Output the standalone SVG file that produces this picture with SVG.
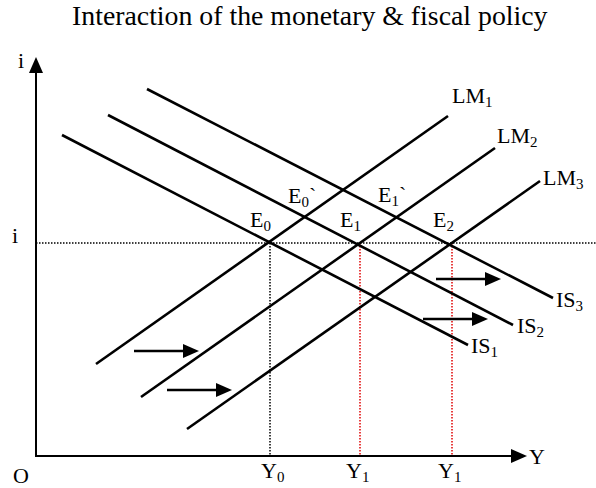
<svg xmlns="http://www.w3.org/2000/svg" width="596" height="488" viewBox="0 0 596 488">
<style>
text{font-family:"Liberation Serif","Times New Roman",serif;fill:#000;font-size:22px}
.sub{font-size:15px}
.curve{stroke:#000;stroke-width:2.6;fill:none;stroke-linecap:butt}
.axis{stroke:#000;stroke-width:2;fill:none}
.dotk{stroke:#000;stroke-width:1.5;stroke-dasharray:1.5 1.5;fill:none}
.dotr{stroke:#e00000;stroke-width:1.5;stroke-dasharray:1.5 1.5;fill:none}
.shift{stroke:#000;stroke-width:2.6;fill:none}
</style>
<defs>
<marker id="ah" viewBox="0 0 16 14" refX="2" refY="7" markerWidth="16" markerHeight="14" markerUnits="userSpaceOnUse" orient="auto">
<path d="M0,0 L16,7 L0,14 z" fill="#000"/>
</marker>
</defs>
<rect width="596" height="488" fill="#fff"/>
<text x="72" y="25" style="font-size:27.8px">Interaction of the monetary &amp; fiscal policy</text>

<g id="guides">
<line class="dotk" x1="36" y1="243" x2="596" y2="243"/>
<line class="dotk" x1="270" y1="243" x2="270" y2="456"/>
<line class="dotr" x1="360" y1="243" x2="360" y2="456"/>
<line class="dotr" x1="452" y1="243" x2="452" y2="456"/>
</g>

<g id="axes">
<line class="axis" x1="36" y1="457" x2="36" y2="71" marker-end="url(#ah)"/>
<line class="axis" x1="35" y1="456" x2="513" y2="456" marker-end="url(#ah)"/>
<text x="18" y="68">i</text>
<text x="12" y="243">i</text>
<text x="529" y="464">Y</text>
<text x="13" y="483">O</text>
</g>

<g id="LM1"><line class="curve" x1="96" y1="364" x2="448" y2="116"/><text x="452" y="103">LM<tspan class="sub" dy="4">1</tspan></text></g>
<g id="LM2"><line class="curve" x1="141" y1="397" x2="495" y2="148"/><text x="497" y="143">LM<tspan class="sub" dy="4">2</tspan></text></g>
<g id="LM3"><line class="curve" x1="187" y1="429" x2="540" y2="181"/><text x="543" y="185">LM<tspan class="sub" dy="4">3</tspan></text></g>

<g id="IS1"><line class="curve" x1="62" y1="135" x2="468" y2="345"/><text x="471" y="353">IS<tspan class="sub" dy="4">1</tspan></text></g>
<g id="IS2"><line class="curve" x1="108" y1="115" x2="513" y2="325"/><text x="517" y="333">IS<tspan class="sub" dy="4">2</tspan></text></g>
<g id="IS3"><line class="curve" x1="147" y1="89" x2="553" y2="298"/><text x="556" y="307">IS<tspan class="sub" dy="4">3</tspan></text></g>

<g id="E0"><text x="250" y="227">E<tspan class="sub" dy="4">0</tspan></text></g>
<g id="E0p"><text x="288" y="203">E<tspan class="sub" dy="4">0</tspan><tspan dy="-4">`</tspan></text></g>
<g id="E1"><text x="340" y="227">E<tspan class="sub" dy="4">1</tspan></text></g>
<g id="E1p"><text x="378" y="202">E<tspan class="sub" dy="4">1</tspan><tspan dy="-4">`</tspan></text></g>
<g id="E2"><text x="433" y="227">E<tspan class="sub" dy="4">2</tspan></text></g>

<g id="Y0"><text x="261" y="478">Y<tspan class="sub" dy="4">0</tspan></text></g>
<g id="Y1a"><text x="346" y="478">Y<tspan class="sub" dy="4">1</tspan></text></g>
<g id="Y1b"><text x="438" y="478">Y<tspan class="sub" dy="4">1</tspan></text></g>

<g id="connectors">
<line class="shift" x1="134" y1="351" x2="185" y2="351" marker-end="url(#ah)"/>
<line class="shift" x1="167" y1="390" x2="218" y2="390" marker-end="url(#ah)"/>
<line class="shift" x1="423" y1="319" x2="474" y2="319" marker-end="url(#ah)"/>
<line class="shift" x1="436" y1="279" x2="487" y2="279" marker-end="url(#ah)"/>
</g>
</svg>
